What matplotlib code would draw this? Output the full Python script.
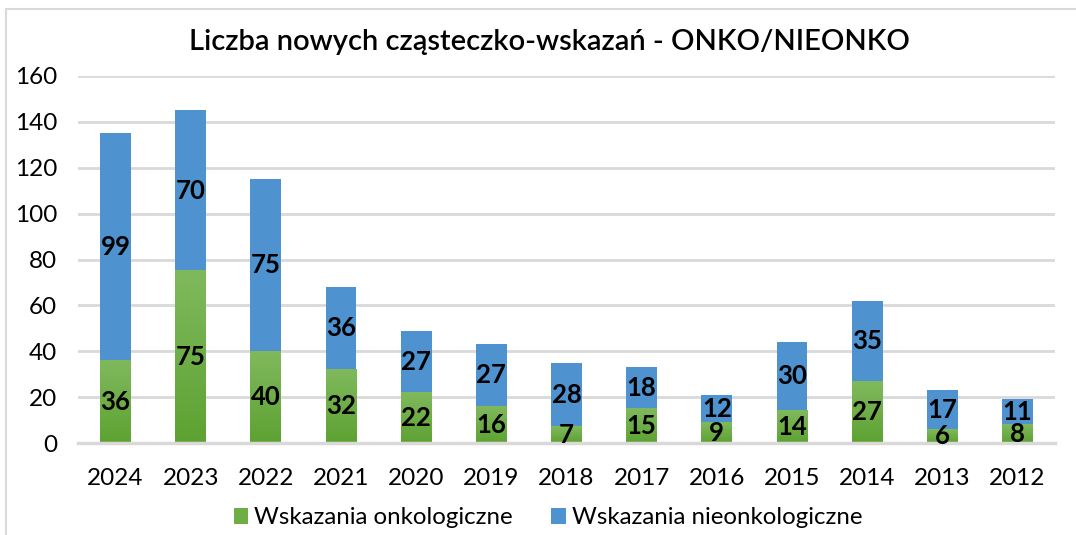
import numpy as np
import matplotlib.pyplot as plt
from matplotlib.patches import Rectangle

plt.rcParams['font.family'] = ['Lato', 'DejaVu Sans']

years = ['2024', '2023', '2022', '2021', '2020', '2019', '2018',
         '2017', '2016', '2015', '2014', '2013', '2012']
onko = [36, 75, 40, 32, 22, 16, 7, 15, 9, 14, 27, 6, 8]
nieonko = [99, 70, 75, 36, 27, 27, 28, 18, 12, 30, 35, 17, 11]
yticks = [0, 20, 40, 60, 80, 100, 120, 140, 160]

green = '#6fad47'
blue = '#4e92d0'
grid_c = '#d9d9d9'

fig = plt.figure(figsize=(10.76, 5.35), dpi=100)
# chart frame
fig.patches.append(Rectangle((6 / 1076, -0.1), 1.2, 1 - 9 / 535 + 0.1,
                             transform=fig.transFigure, fill=False,
                             edgecolor=grid_c, linewidth=1.5))
ax = fig.add_axes([78 / 1076, 1 - 443 / 535, 977 / 1076, 367 / 535])

x = np.arange(len(years))
w = 0.41
g_bars = ax.bar(x, onko, w, color=green, zorder=2,
                label='Wskazania onkologiczne')
b_bars = ax.bar(x, nieonko, w, bottom=onko, color=blue, zorder=2,
                label='Wskazania nieonkologiczne')

# gradient on the green segments
grad = np.linspace(0, 1, 100).reshape(-1, 1)
cmap = plt.matplotlib.colors.LinearSegmentedColormap.from_list(
    'g', ['#5da232', '#80b95d'])
for b in g_bars:
    x0, y0 = b.get_x(), b.get_y()
    ax.imshow(grad, extent=(x0, x0 + b.get_width(), y0, y0 + b.get_height()),
              origin='lower', cmap=cmap, aspect='auto', zorder=2.1)

for i in range(len(years)):
    ax.text(x[i], onko[i] / 2, str(onko[i]), ha='center', va='center',
            fontsize=18.5, fontweight='bold', zorder=3)
    ax.text(x[i], onko[i] + nieonko[i] / 2, str(nieonko[i]), ha='center',
            va='center', fontsize=18.5, fontweight='bold', zorder=3)

ax.set_xlim(-0.5, len(years) - 0.5)
ax.set_ylim(0, 160)
ax.set_yticks(yticks)
ax.set_xticks(x)
ax.set_xticklabels(years)
ax.tick_params(axis='both', length=0, labelsize=17.5, colors='black')
ax.tick_params(axis='x', pad=18)
ax.tick_params(axis='y', pad=15)
ax.grid(axis='y', color=grid_c, linewidth=2, zorder=0)
ax.set_axisbelow(True)
for s in ['top', 'right', 'left']:
    ax.spines[s].set_visible(False)
ax.spines['bottom'].set_color(grid_c)
ax.spines['bottom'].set_linewidth(2.5)

fig.text(549 / 1076, 1 - 42 / 535,
         'Liczba nowych cząsteczko-wskazań - ONKO/NIEONKO',
         ha='center', va='center', fontsize=21, fontweight='semibold')

fig.legend(handles=[g_bars, b_bars], loc='center',
           bbox_to_anchor=(548 / 1076, 1 - 518 / 535), ncol=2, frameon=False,
           fontsize=17.3, handlelength=0.6, handleheight=0.6,
           handletextpad=0.25, columnspacing=1.6)

fig.savefig('out.png', dpi=100)
